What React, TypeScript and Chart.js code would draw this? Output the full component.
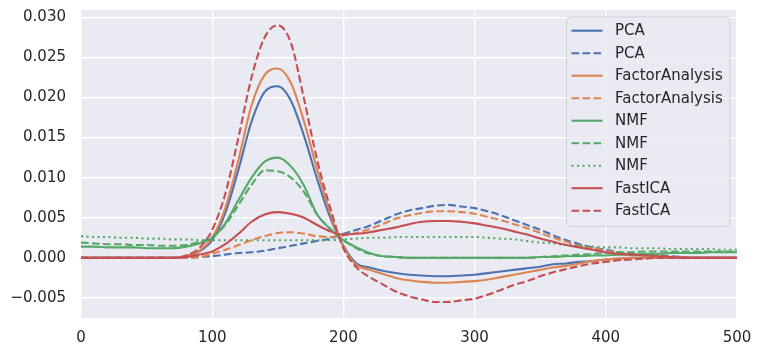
import React, { useEffect, useRef } from "react";
import { Chart, registerables } from "chart.js";

Chart.register(...registerables);

const X = [0, 10, 20, 30, 40, 50, 60, 70, 80, 90, 100, 110, 120, 130, 140, 150, 160, 170, 180, 190, 200, 210, 220, 230, 240, 250, 260, 270, 280, 290, 300, 310, 320, 330, 340, 350, 360, 370, 380, 390, 400, 410, 420, 430, 440, 450, 460, 470, 480, 490, 500];

const PCA_SOLID = [0, 0, 0, 0, 0, 0, 0, 0, 0.0002, 0.0008, 0.0022, 0.0056, 0.0110, 0.0170, 0.0207, 0.0214, 0.0196, 0.0152, 0.0098, 0.0050, 0.0015, -0.0007, -0.0012, -0.0016, -0.0019, -0.0021, -0.0022, -0.0023, -0.0023, -0.0022, -0.0021, -0.0019, -0.0017, -0.0015, -0.0013, -0.0011, -0.0008, -0.0007, -0.0005, -0.0004, -0.0002, -0.0001, 0, 0, 0, 0, 0, 0, 0, 0, 0];
const PCA_DASHED = [0, 0, 0, 0, 0, 0, 0, 0, 0, 0.0001, 0.0002, 0.0004, 0.0006, 0.0007, 0.0009, 0.0012, 0.0015, 0.0018, 0.0021, 0.0024, 0.0030, 0.0035, 0.0040, 0.0047, 0.0054, 0.0059, 0.0062, 0.0065, 0.0066, 0.0064, 0.0062, 0.0058, 0.0053, 0.0047, 0.0041, 0.0035, 0.0028, 0.0022, 0.0017, 0.0013, 0.0010, 0.0007, 0.0005, 0.0004, 0.0003, 0.0002, 0.0001, 0, 0, 0, 0];
const FA_SOLID = [0, 0, 0, 0, 0, 0, 0, 0, 0.0002, 0.0009, 0.0025, 0.0062, 0.0122, 0.0190, 0.0228, 0.0236, 0.0218, 0.0170, 0.0110, 0.0055, 0.0014, -0.0009, -0.0015, -0.0020, -0.0025, -0.0028, -0.0030, -0.0031, -0.0031, -0.0030, -0.0029, -0.0027, -0.0024, -0.0021, -0.0018, -0.0015, -0.0012, -0.0010, -0.0007, -0.0004, -0.0002, -0.0001, 0, 0, 0, 0, 0, 0, 0, 0, 0];
const FA_DASHED = [0, 0, 0, 0, 0, 0, 0, 0, 0, 0.0001, 0.0005, 0.0010, 0.0016, 0.0022, 0.0027, 0.0031, 0.0032, 0.0030, 0.0027, 0.0026, 0.0028, 0.0031, 0.0036, 0.0042, 0.0049, 0.0053, 0.0056, 0.0058, 0.0058, 0.0057, 0.0055, 0.0051, 0.0047, 0.0042, 0.0037, 0.0031, 0.0025, 0.0020, 0.0015, 0.0012, 0.0009, 0.0006, 0.0004, 0.0003, 0.0002, 0.0001, 0, 0, 0, 0, 0];
const NMF_SOLID = [0.0014, 0.0014, 0.0013, 0.0013, 0.0013, 0.0012, 0.0012, 0.0012, 0.0014, 0.0018, 0.0025, 0.0043, 0.0072, 0.0100, 0.0120, 0.0125, 0.0114, 0.0090, 0.0054, 0.0036, 0.0022, 0.0013, 0.0006, 0.0002, 0.0001, 0, 0, 0, 0, 0, 0, 0, 0, 0, 0, 0.0001, 0.0001, 0.0002, 0.0002, 0.0003, 0.0003, 0.0004, 0.0004, 0.0005, 0.0005, 0.0006, 0.0006, 0.0006, 0.0007, 0.0007, 0.0007];
const NMF_DASHED = [0.0019, 0.0018, 0.0017, 0.0017, 0.0016, 0.0016, 0.0015, 0.0015, 0.0016, 0.0020, 0.0026, 0.0041, 0.0066, 0.0091, 0.0109, 0.0108, 0.0100, 0.0082, 0.0054, 0.0036, 0.0022, 0.0012, 0.0005, 0.0002, 0.0001, 0, 0, 0, 0, 0, 0, 0, 0, 0, 0, 0.0001, 0.0002, 0.0003, 0.0004, 0.0005, 0.0006, 0.0007, 0.0007, 0.0008, 0.0008, 0.0008, 0.0008, 0.0008, 0.0008, 0.0008, 0.0008];
const NMF_DOTTED = [0.0027, 0.0026, 0.0026, 0.0025, 0.0025, 0.0024, 0.0024, 0.0023, 0.0023, 0.0022, 0.0022, 0.0022, 0.0022, 0.0022, 0.0022, 0.0022, 0.0022, 0.0022, 0.0022, 0.0022, 0.0023, 0.0024, 0.0025, 0.0025, 0.0026, 0.0026, 0.0026, 0.0026, 0.0026, 0.0026, 0.0026, 0.0025, 0.0024, 0.0023, 0.0021, 0.0019, 0.0018, 0.0016, 0.0015, 0.0014, 0.0013, 0.0013, 0.0012, 0.0012, 0.0012, 0.0011, 0.0011, 0.0011, 0.0011, 0.0010, 0.0010];
const ICA_SOLID = [0, 0, 0, 0, 0, 0, 0, 0, 0.0001, 0.0004, 0.0008, 0.0017, 0.0030, 0.0045, 0.0054, 0.0057, 0.0055, 0.0050, 0.0041, 0.0033, 0.0029, 0.0030, 0.0032, 0.0035, 0.0038, 0.0042, 0.0045, 0.0046, 0.0046, 0.0045, 0.0043, 0.0040, 0.0037, 0.0033, 0.0029, 0.0024, 0.0020, 0.0016, 0.0013, 0.0010, 0.0007, 0.0005, 0.0004, 0.0003, 0.0002, 0.0001, 0, 0, 0, 0, 0];
const ICA_DASHED = [0, 0, 0, 0, 0, 0, 0, 0, 0.0003, 0.0012, 0.0035, 0.0080, 0.0150, 0.0225, 0.0275, 0.0290, 0.0268, 0.0198, 0.0122, 0.0062, 0.0012, -0.0012, -0.0024, -0.0033, -0.0042, -0.0048, -0.0052, -0.0055, -0.0055, -0.0053, -0.0051, -0.0046, -0.0040, -0.0034, -0.0029, -0.0023, -0.0018, -0.0014, -0.0010, -0.0007, -0.0005, -0.0003, -0.0002, -0.0001, 0, 0, 0, 0, 0, 0, 0];

const Y_TICKS = [-0.005, 0, 0.005, 0.01, 0.015, 0.02, 0.025, 0.03];
const X_TICKS = [0, 100, 200, 300, 400, 500];

const BLUE = "#4C72B0";
const ORANGE = "#DD8452";
const GREEN = "#55A868";
const RED = "#C44E52";
const DASH = [7.7, 3.3];
const DOT = [2.1, 3.4];
const FONT = "'DejaVu Sans', sans-serif";
const TEXT = "#262626";

const SERIES = [
  { label: "PCA", data: PCA_SOLID, color: BLUE, dash: [] as number[] },
  { label: "PCA", data: PCA_DASHED, color: BLUE, dash: DASH },
  { label: "FactorAnalysis", data: FA_SOLID, color: ORANGE, dash: [] as number[] },
  { label: "FactorAnalysis", data: FA_DASHED, color: ORANGE, dash: DASH },
  { label: "NMF", data: NMF_SOLID, color: GREEN, dash: [] as number[] },
  { label: "NMF", data: NMF_DASHED, color: GREEN, dash: DASH },
  { label: "NMF", data: NMF_DOTTED, color: GREEN, dash: DOT },
  { label: "FastICA", data: ICA_SOLID, color: RED, dash: [] as number[] },
  { label: "FastICA", data: ICA_DASHED, color: RED, dash: DASH },
];

const bgPlugin = {
  id: "bgPlugin",
  beforeDraw(chart: any) {
    const { ctx, chartArea } = chart;
    ctx.save();
    ctx.fillStyle = "#EAEAF2";
    ctx.fillRect(chartArea.left, chartArea.top, chartArea.right - chartArea.left, chartArea.bottom - chartArea.top);
    ctx.restore();
  },
};

const legendPlugin = {
  id: "innerLegend",
  afterDraw(chart: any) {
    const { ctx, chartArea } = chart;
    const ds = chart.data.datasets;
    const x0 = chartArea.right - 170.5;
    const y0 = chartArea.top + 7;
    const w = 163.5;
    const h = 209.5;
    ctx.save();
    ctx.beginPath();
    const r = 4;
    ctx.moveTo(x0 + r, y0);
    ctx.lineTo(x0 + w - r, y0);
    ctx.arcTo(x0 + w, y0, x0 + w, y0 + r, r);
    ctx.lineTo(x0 + w, y0 + h - r);
    ctx.arcTo(x0 + w, y0 + h, x0 + w - r, y0 + h, r);
    ctx.lineTo(x0 + r, y0 + h);
    ctx.arcTo(x0, y0 + h, x0, y0 + h - r, r);
    ctx.lineTo(x0, y0 + r);
    ctx.arcTo(x0, y0, x0 + r, y0, r);
    ctx.closePath();
    ctx.fillStyle = "rgba(234,234,242,0.8)";
    ctx.fill();
    ctx.strokeStyle = "rgba(204,204,204,0.8)";
    ctx.lineWidth = 1;
    ctx.stroke();
    ctx.font = `15px ${FONT}`;
    ctx.textBaseline = "middle";
    ctx.textAlign = "left";
    ds.forEach((d: any, i: number) => {
      const y = y0 + 13.7 + i * 22.5;
      ctx.beginPath();
      ctx.setLineDash(d.borderDash || []);
      ctx.strokeStyle = d.borderColor;
      ctx.lineWidth = 2.1;
      ctx.lineCap = "butt";
      ctx.moveTo(x0 + 5, y);
      ctx.lineTo(x0 + 36, y);
      ctx.stroke();
      ctx.setLineDash([]);
      ctx.fillStyle = TEXT;
      ctx.fillText(d.label, x0 + 48.5, y + 0.5);
    });
    ctx.restore();
  },
};

function fmtY(v: number) {
  if (Math.abs(v) < 1e-9) return "0.000";
  const s = Math.abs(v).toFixed(3);
  return v < 0 ? "\u2212" + s : s;
}

export default function App() {
  const ref = useRef<HTMLCanvasElement | null>(null);
  useEffect(() => {
    if (!ref.current) return;
    const n = SERIES.length;
    const chart = new Chart(ref.current, {
      type: "line",
      data: {
        labels: X,
        datasets: SERIES.map((s, i) => ({
          label: s.label,
          data: X.map((x, j) => ({ x, y: s.data[j] })),
          borderColor: s.color,
          backgroundColor: s.color,
          borderDash: s.dash,
          borderWidth: 2.1,
          borderCapStyle: "butt",
          pointRadius: 0,
          fill: false,
          cubicInterpolationMode: "monotone",
          order: n - i,
        })),
      },
      options: {
        responsive: false,
        animation: false,
        events: [],
        layout: { padding: { left: 0, right: 24, top: 10, bottom: 0 } },
        plugins: { legend: { display: false }, tooltip: { enabled: false } },
        scales: {
          x: {
            type: "linear",
            min: 0,
            max: 500,
            afterBuildTicks: (scale: any) => {
              scale.ticks = X_TICKS.map((v) => ({ value: v }));
            },
            afterFit: (scale: any) => {
              scale.height = 38;
              scale.paddingLeft = 0;
              scale.paddingRight = 0;
            },
            grid: { color: "#FFFFFF", lineWidth: 1.4, drawTicks: false },
            border: { display: false },
            ticks: {
              padding: 11,
              color: TEXT,
              font: { family: FONT, size: 15 },
              maxRotation: 0,
              callback: (v: any) => String(v),
            },
          },
          y: {
            type: "linear",
            min: -0.0075,
            max: 0.0309,
            afterBuildTicks: (scale: any) => {
              scale.ticks = Y_TICKS.map((v) => ({ value: v }));
            },
            afterFit: (scale: any) => {
              scale.width = 81;
              scale.paddingTop = 0;
              scale.paddingBottom = 0;
            },
            grid: { color: "#FFFFFF", lineWidth: 1.4, drawTicks: false },
            border: { display: false },
            ticks: {
              padding: 15,
              color: TEXT,
              font: { family: FONT, size: 15 },
              callback: (v: any) => fmtY(Number(v)),
            },
          },
        },
      },
      plugins: [bgPlugin, legendPlugin],
    } as any);
    return () => chart.destroy();
  }, []);
  return (
    <div style={{ position: "fixed", left: 0, top: 0, width: 761, height: 356, background: "#fff" }}>
      <canvas ref={ref} width={761} height={356} style={{ width: 761, height: 356, display: "block" }} />
    </div>
  );
}
